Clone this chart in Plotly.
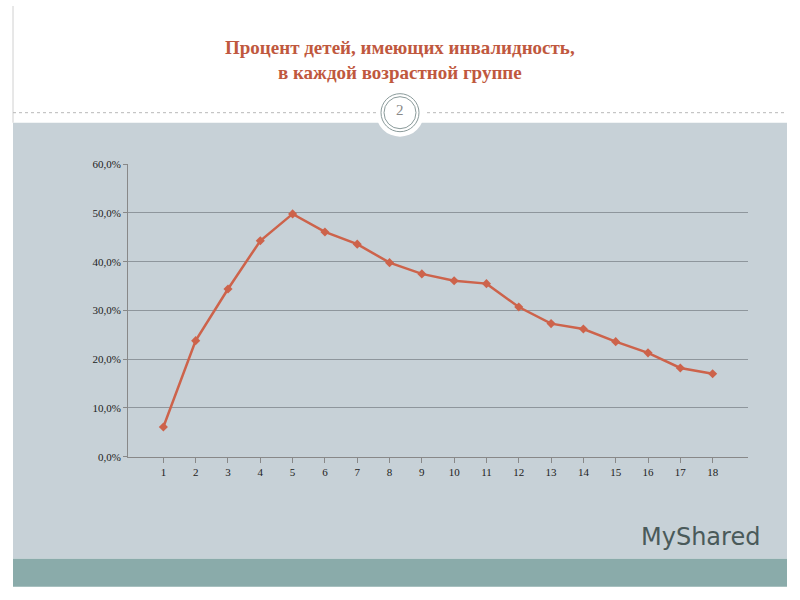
import plotly.graph_objects as go

ages = [str(i) for i in range(1, 19)]
percent = [6.1, 23.8, 34.4, 44.3, 49.8, 46.1, 43.6, 39.8, 37.5, 36.1, 35.5, 30.7, 27.3, 26.2, 23.6, 21.3, 18.2, 17.0]
yticks = [0, 10, 20, 30, 40, 50, 60]
ytick_text = ["0,0%", "10,0%", "20,0%", "30,0%", "40,0%", "50,0%", "60,0%"]
title = "<b>Процент детей, имеющих инвалидность,<br>в каждой возрастной группе</b>"

W, H = 800, 600
def px(x): return x / W
def py(y):
    y = (y - 5.3) / 0.98
    return 1 - y / H

fig = go.Figure(go.Scatter(x=ages, y=percent, mode="lines+markers",
    line=dict(color="#cd634b", width=2.5),
    marker=dict(symbol="diamond", size=7, color="#cd634b"), cliponaxis=False))

shapes = [
    dict(type="rect", xref="paper", yref="paper", x0=px(13), x1=px(787), y0=py(558), y1=py(122),
         fillcolor="#c7d1d7", line=dict(width=0), layer="below"),
    dict(type="rect", xref="paper", yref="paper", x0=px(13), x1=px(787), y0=py(586), y1=py(558),
         fillcolor="#8aabaa", line=dict(width=0), layer="below"),
    dict(type="line", xref="paper", yref="paper", x0=px(13), x1=px(13), y0=py(122), y1=1,
         line=dict(color="#d0d0d0", width=1)),
    dict(type="line", xref="paper", yref="paper", x0=px(13), x1=px(787), y0=py(112), y1=py(112),
         line=dict(color="#b8b8b8", width=1, dash="dot")),
    dict(type="circle", xref="paper", yref="paper", x0=px(376), x1=px(424), y0=py(136), y1=py(88),
         fillcolor="white", line=dict(width=0)),
    dict(type="circle", xref="paper", yref="paper", x0=px(381), x1=px(419), y0=py(131), y1=py(93),
         fillcolor="white", line=dict(color="#8a9a9a", width=1)),
    dict(type="circle", xref="paper", yref="paper", x0=px(384), x1=px(416), y0=py(128), y1=py(96),
         fillcolor="white", line=dict(color="#8a9a9a", width=1)),
]

fig.update_layout(
    width=W, height=H, margin=dict(l=0, r=0, t=0, b=0),
    paper_bgcolor="white", plot_bgcolor="rgba(0,0,0,0)", showlegend=False,
    shapes=shapes,
    font=dict(family="Liberation Serif", size=10, color="#222"),
    annotations=[
        dict(text=title, xref="paper", yref="paper", x=0.5, y=py(59), showarrow=False,
             font=dict(family="Liberation Serif", size=19, color="#c0583e"), yanchor="middle"),
        dict(text="2", xref="paper", yref="paper", x=0.5, y=py(109), showarrow=False, yanchor="middle",
             font=dict(family="Liberation Serif", size=15, color="#888")),
        dict(text="MyShared", xref="paper", yref="paper", x=px(762), y=py(552), xanchor="right",
             showarrow=False, font=dict(family="DejaVu Sans", size=24, color="#4a5a5a")),
    ],
    xaxis=dict(domain=[px(128), px(748)], showgrid=False, showline=True, linecolor="#888",
               ticks="outside", ticklen=5, tickcolor="#888", tickfont=dict(size=11)),
    yaxis=dict(domain=[py(456), py(163)], range=[0, 60.1], tickvals=yticks, ticktext=ytick_text,
               showgrid=True, gridcolor="#8e969c", showline=True, linecolor="#888", zeroline=False,
               ticks="outside", ticklen=4, tickcolor="#888", tickfont=dict(size=11)),
)
fig.write_html("out.html", config={"displayModeBar": False})
with open("out.html", encoding="utf-8") as f:
    html = f.read()
html = html.replace("<body>", '<body style="margin:0;padding:0;overflow:hidden">', 1)
with open("out.html", "w", encoding="utf-8") as f:
    f.write(html)
